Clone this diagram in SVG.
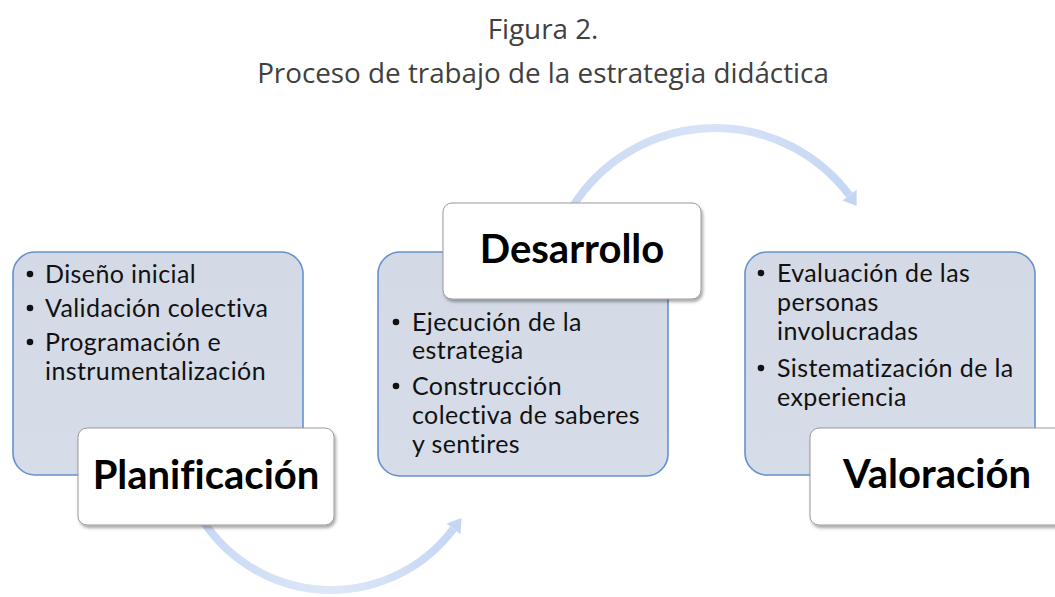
<svg xmlns="http://www.w3.org/2000/svg" width="1055" height="597" viewBox="0 0 1055 597">
<defs>
<linearGradient id="boxfill" x1="0" y1="0" x2="0" y2="1">
<stop offset="0" stop-color="#d3dae6"/>
<stop offset="1" stop-color="#d6dde9"/>
</linearGradient>
<linearGradient id="arcTop" gradientUnits="userSpaceOnUse" x1="560" y1="200" x2="860" y2="200">
<stop offset="0" stop-color="#c9d9f4"/>
<stop offset="0.5" stop-color="#d8e3f7"/>
<stop offset="1" stop-color="#c4d6f4"/>
</linearGradient>
<linearGradient id="arcBot" gradientUnits="userSpaceOnUse" x1="200" y1="520" x2="465" y2="520">
<stop offset="0" stop-color="#c9d9f4"/>
<stop offset="0.5" stop-color="#dde7f8"/>
<stop offset="1" stop-color="#c4d6f4"/>
</linearGradient>
<filter id="shadow" x="-10%" y="-10%" width="125%" height="130%">
<feDropShadow dx="1.5" dy="2.5" stdDeviation="1.5" flood-color="#000" flood-opacity="0.35"/>
</filter>
</defs>
<style>
text{font-variant-ligatures:none}
.title{font-family:"Open Sans","Noto Sans",sans-serif;font-size:27.8px;fill:#404040;text-anchor:middle}
.blue{fill:url(#boxfill);stroke:#6591cc;stroke-width:1.6}
.white{fill:#ffffff;stroke:#9a9a9a;stroke-width:1}
.item{font-family:Lato,"Open Sans",sans-serif;font-size:25px;letter-spacing:0.4px;fill:#111}
.head{font-family:Lato,"Open Sans",sans-serif;font-size:40px;font-weight:bold;fill:#000;text-anchor:middle}
.bul{fill:#111}
</style>
<text class="title" x="543" y="39">Figura 2.</text>
<text class="title" x="543" y="83">Proceso de trabajo de la estrategia didáctica</text>

<g id="connectors">
<path d="M 567.8 215 A 168 168 0 0 1 849.4 195.2" fill="none" stroke="url(#arcTop)" stroke-width="8"/>
<polygon points="856.6,206 856.6,189.8 842.5,200.5" fill="#c4d6f4"/>
<path d="M 199.4 515 A 153 153 0 0 0 453.4 528.8" fill="none" stroke="url(#arcBot)" stroke-width="8"/>
<polygon points="461.5,518 460.6,534.2 446.5,523.6" fill="#c4d6f4"/>
</g>

<g id="planificacion">
<rect class="blue" x="13" y="252" width="290" height="223" rx="22"/>
<circle class="bul" cx="30" cy="274" r="3.3"/>
<text class="item" x="45" y="283">Diseño inicial</text>
<circle class="bul" cx="30" cy="308" r="3.3"/>
<text class="item" x="45" y="317">Validación colectiva</text>
<circle class="bul" cx="30" cy="342" r="3.3"/>
<text class="item" x="45" y="351">Programación e</text>
<text class="item" x="45" y="380">instrumentalización</text>
<rect class="white" x="78" y="428" width="256" height="97" rx="9" filter="url(#shadow)"/>
<text class="head" x="206" y="489">Planificación</text>
</g>

<g id="desarrollo">
<rect class="blue" x="378" y="252" width="290" height="224" rx="22"/>
<circle class="bul" cx="396" cy="322" r="3.3"/>
<text class="item" x="412" y="331">Ejecución de la</text>
<text class="item" x="412" y="359">estrategia</text>
<circle class="bul" cx="396" cy="386" r="3.3"/>
<text class="item" x="412" y="395">Construcción</text>
<text class="item" x="412" y="424">colectiva de saberes</text>
<text class="item" x="412" y="453">y sentires</text>
<rect class="white" x="443" y="203" width="258" height="96" rx="9" filter="url(#shadow)"/>
<text class="head" x="572" y="263">Desarrollo</text>
</g>

<g id="valoracion">
<rect class="blue" x="745" y="252" width="290" height="223" rx="22"/>
<circle class="bul" cx="761" cy="273" r="3.3"/>
<text class="item" x="777" y="282">Evaluación de las</text>
<text class="item" x="777" y="311">personas</text>
<text class="item" x="777" y="340">involucradas</text>
<circle class="bul" cx="761" cy="368" r="3.3"/>
<text class="item" x="777" y="377">Sistematización de la</text>
<text class="item" x="777" y="406">experiencia</text>
<rect class="white" x="810" y="428" width="256" height="97" rx="9" filter="url(#shadow)"/>
<text class="head" x="937" y="488">Valoración</text>
</g>
</svg>
